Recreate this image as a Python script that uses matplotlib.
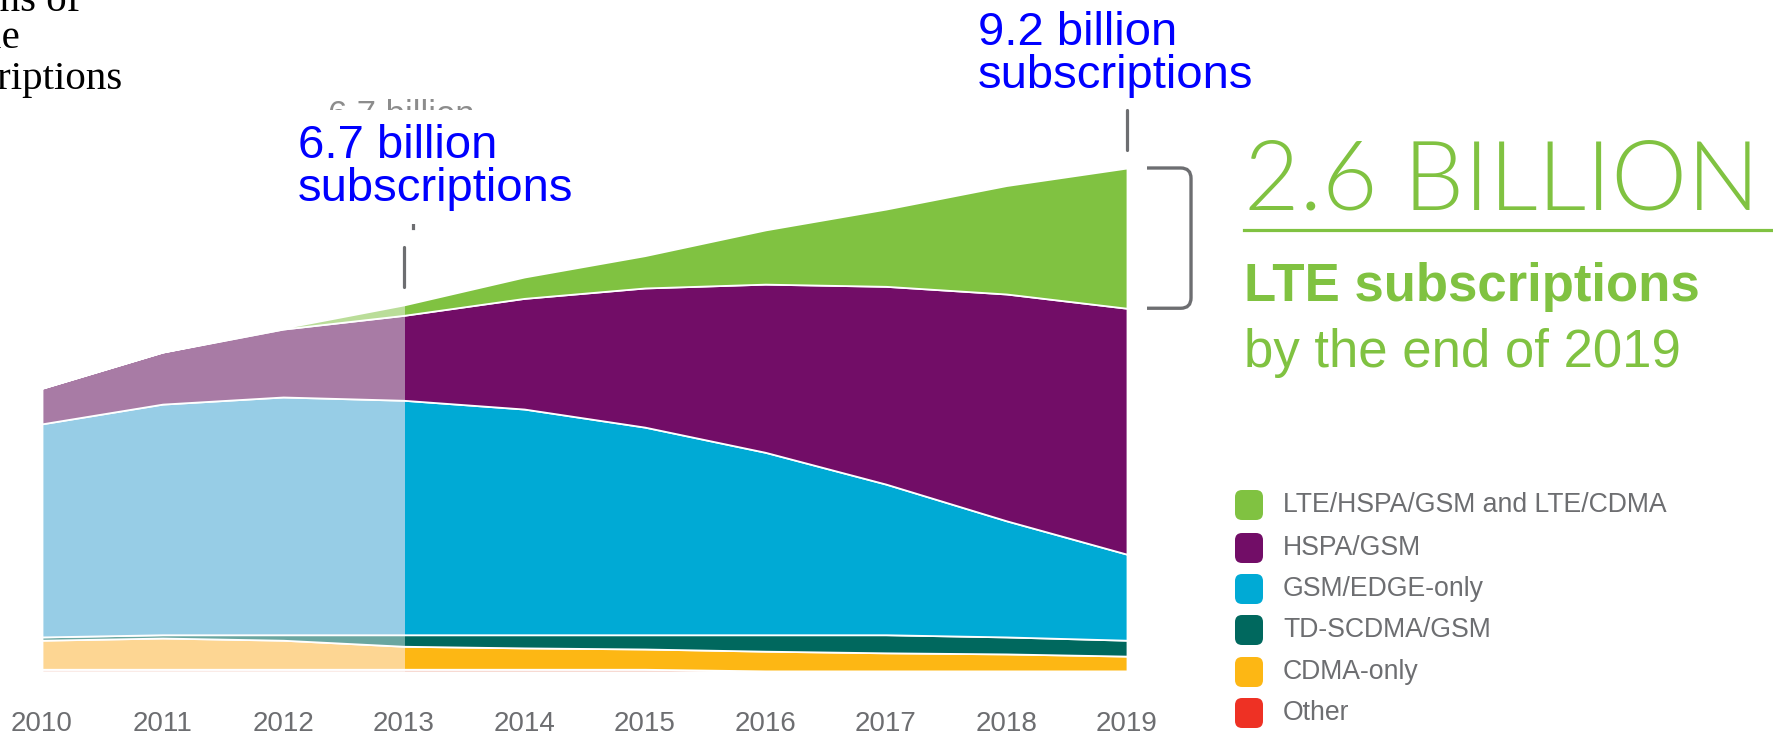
import matplotlib
matplotlib.use("Agg")
import matplotlib.pyplot as plt
from matplotlib import font_manager as fm
from matplotlib.patches import FancyBboxPatch, Rectangle, PathPatch
from matplotlib.lines import Line2D
from matplotlib.path import Path

# mobile subscriptions by technology, billions
years = [2010, 2011, 2012, 2013, 2014, 2015, 2016, 2017, 2018, 2019]
lte = [0.00, 0.00, 0.02, 0.19, 0.39, 0.59, 0.99, 1.41, 1.98, 2.56]
hspa = [0.65, 0.95, 1.24, 1.55, 2.02, 2.54, 3.07, 3.61, 4.14, 4.49]
gsm_edge = [3.89, 4.21, 4.34, 4.28, 4.12, 3.79, 3.33, 2.75, 2.12, 1.57]
td_scdma = [0.06, 0.06, 0.10, 0.21, 0.24, 0.26, 0.30, 0.33, 0.31, 0.29]
cdma = [0.53, 0.57, 0.53, 0.42, 0.39, 0.37, 0.36, 0.33, 0.31, 0.27]
other = [0.05, 0.05, 0.05, 0.05, 0.05, 0.05, 0.02, 0.02, 0.02, 0.02]

legend_labels = ["LTE/HSPA/GSM and LTE/CDMA", "HSPA/GSM", "GSM/EDGE-only",
                 "TD-SCDMA/GSM", "CDMA-only", "Other"]
legend_colors = ["#80C241", "#720D67", "#00AAD5", "#00685E", "#FDB714", "#EE3124"]

GREEN = "#80C241"
GREY = "#6D6E71"
W, H = 1773, 738


def fx(x):
    return x / W


def fy(y):
    return 1 - y / H


def pick(cands):
    for c in cands:
        try:
            fm.findfont(fm.FontProperties(family=c), fallback_to_default=False)
            return c
        except ValueError:
            pass
    return "DejaVu Sans"


sans = pick(["Liberation Sans", "Arial"])
narrow = pick(["Liberation Sans Narrow", "Liberation Sans"])
serif = pick(["Liberation Serif", "DejaVu Serif"])

# light weight face for the big number
light = fm.FontProperties(family=sans)
found = False
for fam in ["Lato", "Roboto", "Open Sans", "Inter"]:
    for f in fm.fontManager.ttflist:
        if f.name == fam and f.weight == 300 and f.style == "normal":
            light = fm.FontProperties(fname=f.fname)
            found = True
            break
    if found:
        break

fig = plt.figure(figsize=(W / 100, H / 100), dpi=100)
ax = fig.add_axes([fx(42), 1 - 672 / H, 1085 / W, 504 / H])

stack_colors = ["#F3C2B6", "#FDB714", "#00685E", "#00AAD5", "#720D67", "#80C241"]
faded_colors = ["#F8DED7", "#FDD693", "#6AA6A0", "#97CDE6", "#A87BA5", "#BADD99"]

full = ax.stackplot(years, other, cdma, td_scdma, gsm_edge, hspa, lte,
                    colors=stack_colors, edgecolor="white", linewidth=1.3,
                    zorder=2)
faded = ax.stackplot(years, other, cdma, td_scdma, gsm_edge, hspa, lte,
                     colors=faded_colors, edgecolor="white", linewidth=1.3,
                     zorder=2)
clip_new = Rectangle((2013, -1), 8, 15, transform=ax.transData)
clip_old = Rectangle((2008, -1), 5, 15, transform=ax.transData)
for pc in full:
    pc.set_clip_path(clip_new)
for pc in faded:
    pc.set_clip_path(clip_old)

ax.set_xlim(2010, 2019)
ax.set_ylim(0, 9.2)
ax.set_xticks(years)
ax.set_xticklabels([str(y) for y in years], family=narrow, fontsize=20,
                   color=GREY)
ax.tick_params(axis="x", length=0, pad=28)
ax.set_yticks([])
for s in ax.spines.values():
    s.set_visible(False)

totals = [a + b + c + d + e + f for a, b, c, d, e, f in
          zip(lte, hspa, gsm_edge, td_scdma, cdma, other)]
no_lte = [t - l for t, l in zip(totals, lte)]

# marker lines above 2013 and 2019
for i in (3, 9):
    ax.plot([years[i], years[i]], [totals[i] + 0.32, totals[i] + 1.05],
            color=GREY, lw=2.3, clip_on=False, solid_capstyle="round")
ax.plot([2013.08, 2013.08], [totals[3] + 1.40, totals[3] + 1.46],
        color=GREY, lw=2.3, clip_on=False)

# bracket around LTE 2019
x0, x1 = 2019.166, 2019.531
rx, ry = 0.085, 0.19
yt, yb = totals[9], no_lte[9]
verts = [(x0, yt), (x1 - rx, yt), (x1, yt), (x1, yt - ry), (x1, yb + ry),
         (x1, yb), (x1 - rx, yb), (x0, yb)]
codes = [Path.MOVETO, Path.LINETO, Path.CURVE3, Path.CURVE3, Path.LINETO,
         Path.CURVE3, Path.CURVE3, Path.LINETO]
ax.add_patch(PathPatch(Path(verts, codes), fill=False, edgecolor=GREY,
                       lw=2.4, clip_on=False))

# headline on the right
fig.text(fx(1244), fy(209), "2.6 BILLION", fontproperties=light,
         fontsize=69, color=GREEN, va="baseline")
fig.add_artist(Line2D([fx(1244), 1.0], [fy(230), fy(230)], color=GREEN,
                      lw=2.3))
fig.text(fx(1244), fy(301), "LTE subscriptions", family=sans,
         fontweight="bold", fontsize=38, color=GREEN, va="baseline")
fig.text(fx(1244), fy(367), "by the end of 2019", family=sans,
         fontsize=38, color=GREEN, va="baseline")

# legend
centers = [505, 548, 589, 630, 672, 713]
for lab, col, cy in zip(legend_labels, legend_colors, centers):
    fig.add_artist(FancyBboxPatch((12.35, (H - cy - 15) / 100), 0.28, 0.30,
                                  boxstyle="round,pad=0,rounding_size=0.07",
                                  transform=fig.dpi_scale_trans,
                                  facecolor=col, edgecolor="none"))
    fig.text(fx(1283), fy(cy), lab, family=narrow, fontsize=19.2, color=GREY,
             va="center")

# old grey label hidden under the blue one
fig.text(fx(328), fy(125), "6.7 billion", family=sans, fontsize=25,
         color="#8C8C8C", va="baseline", zorder=1)
fig.add_artist(Rectangle((fx(285), fy(224)), fx(600) - fx(285),
                         fy(110) - fy(224), transform=fig.transFigure,
                         facecolor="white", edgecolor="none", zorder=2))

# blue labels
for x, y1, y2, num in [(298, 158, 201, "6.7 billion"),
                       (978, 45, 88, "9.2 billion")]:
    fig.text(fx(x), fy(y1), num, family=sans, fontsize=34, color="#0000FF",
             va="baseline", zorder=3)
    fig.text(fx(x), fy(y2), "subscriptions", family=sans, fontsize=34,
             color="#0000FF", va="baseline", zorder=3)

# clipped serif title at top left
for y, line in [(11, "Billions of"), (48, "mobile"), (89, "subscriptions")]:
    fig.text(fx(-94), fy(y), line, family=serif, fontsize=29.5, color="black",
             va="baseline")

fig.savefig("out.png", dpi=100, facecolor="white")
